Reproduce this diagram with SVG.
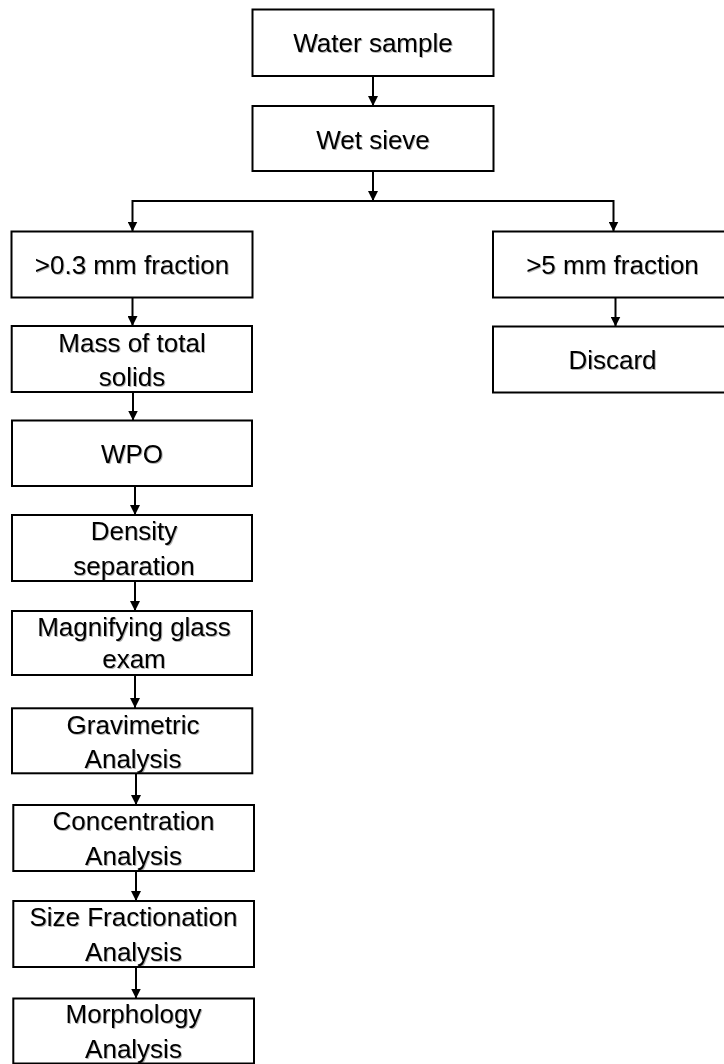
<svg xmlns="http://www.w3.org/2000/svg" width="724" height="1064" viewBox="0 0 724 1064">
<style>
.box{fill:#fff;stroke:#000;stroke-width:2}
.t{font-family:"Liberation Sans",Arial,sans-serif;font-size:26px;fill:#000;text-anchor:middle;filter:url(#sh)}
.c{fill:none;stroke:#000;stroke-width:2}
</style>
<defs>
<marker id="ah" viewBox="0 0 10 10" refX="10" refY="5" markerWidth="5" markerHeight="5" markerUnits="strokeWidth" orient="auto">
<path d="M0,0 L10,5 L0,10 z" fill="#000"/>
</marker>
<filter id="sh" x="-10%" y="-20%" width="120%" height="150%">
<feDropShadow dx="1" dy="1" stdDeviation="0.7" flood-color="#000" flood-opacity="0.3"/>
</filter>
</defs>
<rect width="724" height="1064" fill="#fff"/>
<g id="connectors">
<path class="c" d="M373,76 V106" marker-end="url(#ah)"/>
<path class="c" d="M373,171 V201" marker-end="url(#ah)"/>
<path class="c" d="M132.5,201 H613.5"/>
<path class="c" d="M132.5,200 V231.5" marker-end="url(#ah)"/>
<path class="c" d="M613.5,200 V231.5" marker-end="url(#ah)"/>
<path class="c" d="M615.5,297.5 V326.5" marker-end="url(#ah)"/>
<path class="c" d="M132.5,297.5 V326" marker-end="url(#ah)"/>
<path class="c" d="M133,392 V420.5" marker-end="url(#ah)"/>
<path class="c" d="M135,486 V515" marker-end="url(#ah)"/>
<path class="c" d="M135,581 V611" marker-end="url(#ah)"/>
<path class="c" d="M135,675 V708" marker-end="url(#ah)"/>
<path class="c" d="M136,773.5 V805" marker-end="url(#ah)"/>
<path class="c" d="M136,871 V901" marker-end="url(#ah)"/>
<path class="c" d="M136,967 V998.5" marker-end="url(#ah)"/>
</g>
<g id="water-sample"><rect class="box" x="252.5" y="9.5" width="241" height="66.5"/><text class="t" x="373" y="52">Water sample</text></g>
<g id="wet-sieve"><rect class="box" x="252.5" y="106" width="241" height="65"/><text class="t" x="373" y="148.5">Wet sieve</text></g>
<g id="fraction-03"><rect class="box" x="11.5" y="231.5" width="241" height="66"/><text class="t" x="132" y="274">&gt;0.3 mm fraction</text></g>
<g id="fraction-5"><rect class="box" x="493" y="231.5" width="240" height="66"/><text class="t" x="612.5" y="274">&gt;5 mm fraction</text></g>
<g id="discard"><rect class="box" x="493" y="326.5" width="240" height="66"/><text class="t" x="612.5" y="369">Discard</text></g>
<g id="mass"><rect class="box" x="11.7" y="326" width="240.3" height="66"/><text class="t" x="132" y="351.5">Mass of total</text><text class="t" x="132" y="386">solids</text></g>
<g id="wpo"><rect class="box" x="12" y="420.5" width="240" height="65.5"/><text class="t" x="132" y="463">WPO</text></g>
<g id="density"><rect class="box" x="12" y="515" width="240" height="66"/><text class="t" x="134" y="540">Density</text><text class="t" x="134" y="575">separation</text></g>
<g id="magnifying"><rect class="box" x="12" y="611" width="240" height="64"/><text class="t" x="134" y="636">Magnifying glass</text><text class="t" x="134" y="668">exam</text></g>
<g id="gravimetric"><rect class="box" x="12" y="708.3" width="240.3" height="65"/><text class="t" x="133" y="733.5">Gravimetric</text><text class="t" x="133" y="768">Analysis</text></g>
<g id="concentration"><rect class="box" x="13.3" y="805" width="240.7" height="66"/><text class="t" x="133.5" y="829.5">Concentration</text><text class="t" x="133.5" y="865">Analysis</text></g>
<g id="size-fractionation"><rect class="box" x="13.3" y="901" width="240.7" height="66"/><text class="t" x="133.5" y="925.5">Size Fractionation</text><text class="t" x="133.5" y="961">Analysis</text></g>
<g id="morphology"><rect class="box" x="13.3" y="998.5" width="240.7" height="65"/><text class="t" x="133.5" y="1023">Morphology</text><text class="t" x="133.5" y="1058">Analysis</text></g>
</svg>
